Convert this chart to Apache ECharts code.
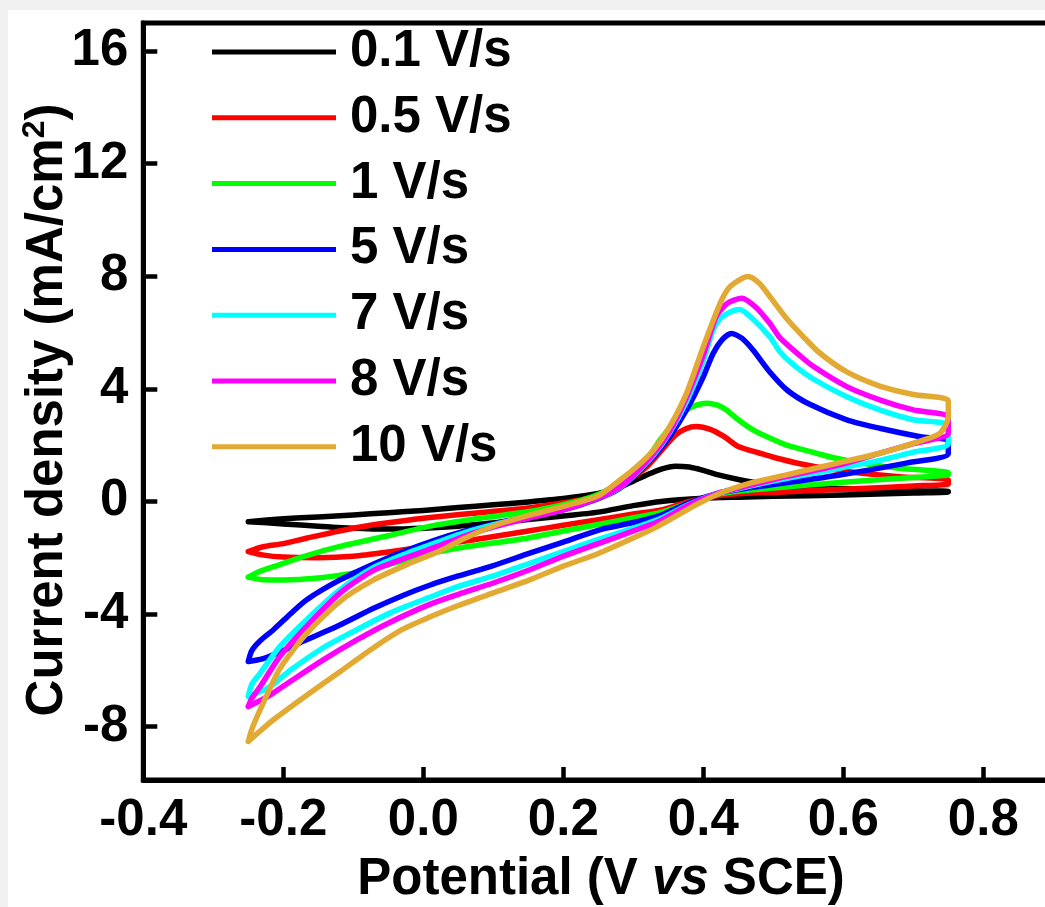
<!DOCTYPE html>
<html>
<head>
<meta charset="utf-8">
<script src="https://cdn.jsdelivr.net/npm/echarts@6/dist/echarts.min.js"></script>
<style>
  html, body { margin: 0; padding: 0; background: #f0f0f0; width: 1045px; height: 907px; overflow: hidden; }
  #frame { position: absolute; left: 8px; top: 10px; width: 1037px; height: 897px; background: #ffffff; overflow: hidden; }
  #chart { width: 1070px; height: 897px; }
</style>
</head>
<body>
<div id="frame"><div id="chart"></div></div>
<script>
// ---- data (potential V vs SCE, current density mA/cm2) ----
const seriesNames = ['0.1 V/s', '0.5 V/s', '1 V/s', '5 V/s', '7 V/s', '8 V/s', '10 V/s'];
const seriesColors = ['#000000', '#ff0000', '#00ff00', '#0000ff', '#00ffff', '#ff00ff', '#e2aa33'];
const xTicks = [-0.4, -0.2, 0.0, 0.2, 0.4, 0.6, 0.8];
const yTicks = [-8, -4, 0, 4, 8, 12, 16];

const cv01 = [
  [-0.25,-0.72],[-0.2,-0.62],[-0.15,-0.55],[-0.1,-0.48],[-0.05,-0.4],[0.0,-0.32],[0.05,-0.22],[0.1,-0.12],
  [0.15,-0.02],[0.2,0.1],[0.25,0.28],[0.28,0.5],[0.3,0.72],[0.32,0.95],[0.34,1.15],[0.36,1.25],[0.38,1.22],
  [0.4,1.1],[0.42,0.95],[0.45,0.78],[0.48,0.65],[0.52,0.55],[0.58,0.47],[0.65,0.42],[0.7,0.38],[0.75,0.36],
  [0.75,0.33],[0.7,0.3],[0.6,0.23],[0.5,0.18],[0.45,0.15],[0.4,0.11],[0.34,0.0],[0.3,-0.15],[0.25,-0.38],
  [0.2,-0.52],[0.15,-0.64],[0.12,-0.72],[0.05,-0.88],[0.0,-0.95],[-0.05,-0.98],[-0.1,-0.95],[-0.15,-0.88],
  [-0.2,-0.8],[-0.25,-0.72]
];
const cv05 = [
  [-0.25,-1.78],[-0.23,-1.62],[-0.2,-1.5],[-0.167,-1.31],[-0.12,-1.05],[-0.071,-0.83],[-0.02,-0.66],[0.024,-0.54],
  [0.08,-0.4],[0.15,-0.23],[0.2,-0.05],[0.25,0.2],[0.28,0.55],[0.3,0.85],[0.32,1.25],[0.34,1.8],[0.36,2.35],
  [0.375,2.58],[0.39,2.66],[0.41,2.56],[0.43,2.3],[0.45,1.95],[0.48,1.72],[0.5,1.57],[0.54,1.33],[0.58,1.15],
  [0.62,1.02],[0.68,0.88],[0.75,0.76],
  [0.75,0.62],[0.7,0.55],[0.6,0.43],[0.5,0.32],[0.45,0.27],[0.42,0.2],[0.38,0.0],[0.34,-0.3],[0.3,-0.45],
  [0.25,-0.65],[0.2,-0.85],[0.15,-1.05],[0.07,-1.37],[0.0,-1.62],[-0.05,-1.8],[-0.1,-1.95],[-0.15,-2.0],
  [-0.2,-1.98],[-0.23,-1.9],[-0.25,-1.78]
];
const cv1 = [
  [-0.25,-2.69],[-0.235,-2.5],[-0.214,-2.32],[-0.17,-1.95],[-0.119,-1.6],[-0.05,-1.22],[0.01,-0.88],[0.08,-0.6],
  [0.152,-0.36],[0.2,-0.12],[0.24,0.15],[0.27,0.5],[0.3,1.0],[0.32,1.5],[0.338,2.18],[0.36,2.85],[0.376,3.25],
  [0.39,3.42],[0.405,3.49],[0.42,3.42],[0.433,3.25],[0.45,2.9],[0.471,2.54],[0.495,2.25],[0.519,2.0],[0.562,1.71],
  [0.586,1.55],[0.63,1.35],[0.68,1.18],[0.75,1.02],
  [0.75,0.95],[0.7,0.85],[0.6,0.68],[0.5,0.48],[0.45,0.36],[0.42,0.25],[0.38,-0.05],[0.338,-0.4],[0.3,-0.58],
  [0.25,-0.82],[0.2,-1.05],[0.15,-1.3],[0.06,-1.62],[0.02,-1.8],[-0.05,-2.25],[-0.1,-2.55],[-0.15,-2.72],
  [-0.2,-2.79],[-0.23,-2.78],[-0.25,-2.69]
];
const cv5 = [
  [-0.25,-5.69],[-0.245,-5.3],[-0.233,-4.95],[-0.214,-4.56],[-0.19,-4.0],[-0.167,-3.5],[-0.119,-2.79],[-0.07,-2.22],
  [-0.03,-1.8],[0.02,-1.35],[0.06,-1.05],[0.105,-0.77],[0.15,-0.55],[0.2,-0.3],[0.25,0.1],[0.28,0.45],
  [0.3,0.88],[0.329,1.59],[0.352,2.3],[0.376,3.25],[0.4,4.43],[0.414,5.26],[0.427,5.75],[0.44,5.97],[0.455,5.8],
  [0.471,5.38],[0.495,4.6],[0.52,3.95],[0.552,3.45],[0.605,2.9],[0.652,2.6],[0.71,2.3],[0.75,2.15],
  [0.75,1.69],[0.69,1.36],[0.595,0.94],[0.5,0.6],[0.45,0.42],[0.42,0.28],[0.38,-0.05],[0.338,-0.5],[0.3,-0.75],
  [0.253,-1.0],[0.2,-1.45],[0.152,-1.84],[0.1,-2.28],[0.05,-2.65],[0.01,-2.97],[-0.03,-3.35],[-0.071,-3.8],
  [-0.12,-4.4],[-0.167,-4.92],[-0.2,-5.3],[-0.23,-5.6],[-0.25,-5.69]
];
const cv7 = [
  [-0.25,-6.93],[-0.245,-6.5],[-0.233,-6.1],[-0.205,-5.16],[-0.167,-4.21],[-0.119,-3.14],[-0.071,-2.35],[-0.024,-1.85],
  [0.02,-1.45],[0.06,-1.1],[0.105,-0.8],[0.15,-0.55],[0.2,-0.28],[0.25,0.12],[0.28,0.48],[0.3,0.9],[0.329,1.65],
  [0.352,2.45],[0.376,3.55],[0.4,5.0],[0.414,6.1],[0.424,6.5],[0.44,6.75],[0.452,6.82],[0.47,6.5],[0.495,5.85],
  [0.51,5.3],[0.529,4.85],[0.557,4.35],[0.605,3.72],[0.652,3.25],[0.7,2.9],[0.75,2.7],
  [0.75,2.05],[0.7,1.75],[0.65,1.45],[0.595,1.18],[0.5,0.72],[0.45,0.45],[0.42,0.28],[0.38,-0.1],[0.338,-0.62],
  [0.3,-0.95],[0.25,-1.35],[0.2,-1.78],[0.152,-2.2],[0.1,-2.65],[0.05,-3.02],[0.01,-3.4],[-0.048,-3.97],
  [-0.095,-4.56],[-0.143,-5.2],[-0.19,-6.0],[-0.22,-6.6],[-0.25,-6.93]
];
const cv8 = [
  [-0.25,-7.29],[-0.245,-7.0],[-0.233,-6.58],[-0.205,-5.51],[-0.167,-4.45],[-0.119,-3.26],[-0.071,-2.45],[-0.024,-2.0],
  [0.02,-1.6],[0.06,-1.22],[0.105,-0.88],[0.15,-0.6],[0.2,-0.3],[0.25,0.12],[0.28,0.5],[0.3,0.92],[0.329,1.7],
  [0.352,2.5],[0.376,3.7],[0.4,5.2],[0.419,6.6],[0.435,7.05],[0.455,7.22],[0.475,6.9],[0.495,6.33],[0.51,5.8],
  [0.538,5.18],[0.557,4.8],[0.605,4.08],[0.652,3.61],[0.7,3.25],[0.75,3.0],
  [0.75,2.42],[0.7,2.05],[0.65,1.7],[0.595,1.3],[0.5,0.78],[0.45,0.47],[0.42,0.28],[0.38,-0.12],[0.338,-0.7],
  [0.3,-1.05],[0.25,-1.5],[0.2,-1.95],[0.152,-2.43],[0.1,-2.9],[0.05,-3.3],[0.01,-3.65],[-0.048,-4.3],
  [-0.095,-4.92],[-0.143,-5.63],[-0.19,-6.4],[-0.22,-6.9],[-0.25,-7.29]
];
const cv10 = [
  [-0.25,-8.53],[-0.245,-8.1],[-0.233,-7.4],[-0.205,-5.95],[-0.167,-4.7],[-0.119,-3.55],[-0.071,-2.79],[-0.024,-2.25],
  [0.02,-1.8],[0.06,-1.3],[0.105,-0.83],[0.15,-0.5],[0.2,-0.18],[0.25,0.2],[0.281,0.76],[0.305,1.24],[0.329,1.83],
  [0.352,2.66],[0.376,3.84],[0.4,5.5],[0.424,7.04],[0.438,7.63],[0.464,7.99],[0.48,7.75],[0.495,7.28],[0.519,6.5],
  [0.543,5.85],[0.565,5.3],[0.605,4.6],[0.652,4.1],[0.7,3.8],[0.75,3.58],
  [0.75,3.0],[0.738,2.42],[0.714,2.18],[0.652,1.71],[0.59,1.35],[0.52,0.95],[0.467,0.65],[0.43,0.35],[0.395,-0.05],
  [0.33,-0.95],[0.3,-1.3],[0.25,-1.85],[0.2,-2.3],[0.152,-2.79],[0.1,-3.25],[0.05,-3.7],[0.01,-4.1],
  [-0.03,-4.55],[-0.071,-5.2],[-0.119,-6.05],[-0.167,-6.9],[-0.214,-7.76],[-0.235,-8.2],[-0.25,-8.53]
];
const seriesData = [cv01, cv05, cv1, cv5, cv7, cv8, cv10];

// ---- chart ----
const FONT = "'Liberation Sans', Arial, sans-serif";
const chart = echarts.init(document.getElementById('chart'), null, { renderer: 'canvas' });

const option = {
  animation: false,
  backgroundColor: '#ffffff',
  color: seriesColors,
  grid: {
    show: true, borderColor: '#000', borderWidth: 5,
    left: 135.3, top: 13, right: 24.7, bottom: 127,
    containLabel: false
  },
  legend: {
    orient: 'vertical',
    left: 204, top: 16,
    padding: 0,
    itemWidth: 124, itemHeight: 5, itemGap: 13.8,
    icon: 'rect',
    data: seriesNames,
    textStyle: { fontFamily: FONT, fontWeight: 'bold', fontSize: 51, color: '#000', lineHeight: 52, padding: [0, 0, 0, 9] }
  },
  xAxis: {
    type: 'value', min: -0.4, max: 0.9,
    splitLine: { show: false },
    axisLine: { show: true, onZero: false, lineStyle: { color: '#000', width: 5 } },
    axisTick: { show: true, inside: true, length: 13, customValues: xTicks, lineStyle: { color: '#000', width: 4.5 } },
    axisLabel: {
      customValues: xTicks, margin: 15,
      fontFamily: FONT, fontWeight: 'bold', fontSize: 51, color: '#000',
      formatter: v => Number(v).toFixed(1)
    }
  },
  yAxis: {
    type: 'value', min: -9.9, max: 17,
    splitLine: { show: false },
    axisLine: { show: true, onZero: false, lineStyle: { color: '#000', width: 5 } },
    axisTick: { show: true, inside: true, length: 14, customValues: yTicks, lineStyle: { color: '#000', width: 4.5 } },
    axisLabel: {
      customValues: yTicks, margin: 15,
      fontFamily: FONT, fontWeight: 'bold', fontSize: 51, color: '#000',
      formatter: v => String(Math.round(v))
    }
  },
  graphic: [
    {
      type: 'text', x: 593, y: 870,
      style: {
        text: '{n|Potential (V }{i|vs}{n| SCE)}',
        align: 'center', verticalAlign: 'middle',
        rich: {
          n: { fontFamily: FONT, fontWeight: 'bold', fontSize: 51, fill: '#000', lineHeight: 56 },
          i: { fontFamily: FONT, fontWeight: 'bold', fontStyle: 'italic', fontSize: 51, fill: '#000', lineHeight: 56 }
        }
      }
    },
    {
      type: 'text', x: 40, y: 400, rotation: Math.PI / 2,
      style: {
        text: '{n|Current density (mA/cm}{s|2}{n|)}',
        align: 'center', verticalAlign: 'middle',
        rich: {
          n: { fontFamily: FONT, fontWeight: 'bold', fontSize: 51, fill: '#000', lineHeight: 58 },
          s: { fontFamily: FONT, fontWeight: 'bold', fontSize: 32, fill: '#000', lineHeight: 58, verticalAlign: 'top' }
        }
      }
    }
  ],
  series: seriesData.map((d, i) => ({
    name: seriesNames[i],
    type: 'line',
    data: d,
    showSymbol: false,
    symbol: 'none',
    smooth: 0.25,
    lineStyle: { width: 5.5, color: seriesColors[i], join: 'round', cap: 'round' },
    itemStyle: { color: seriesColors[i] },
    emphasis: { disabled: true }
  }))
};
chart.setOption(option);
</script>
</body>
</html>
